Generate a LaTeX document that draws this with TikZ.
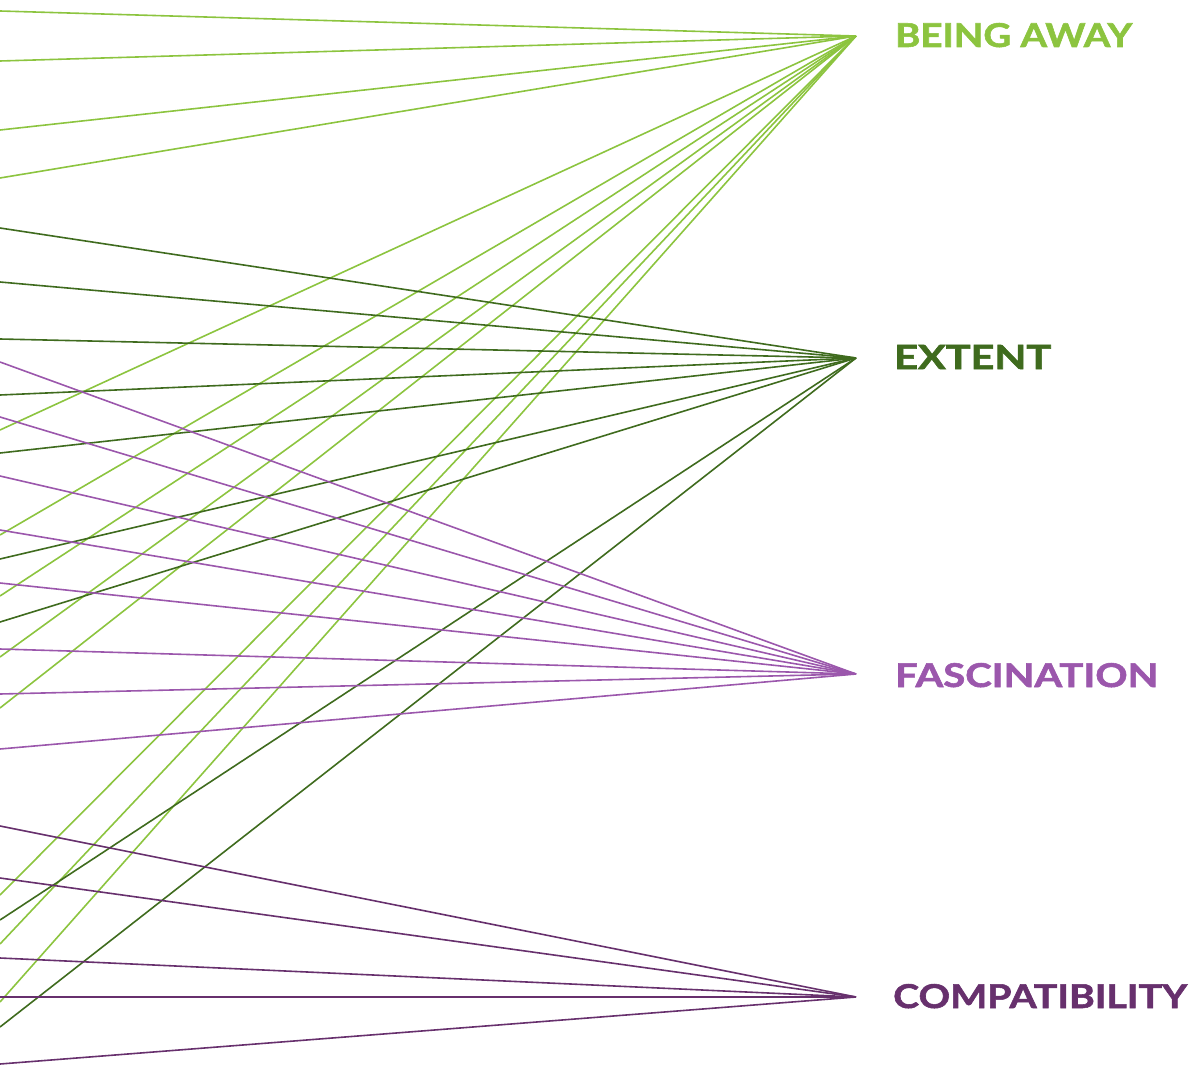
\documentclass[tikz,border=0pt]{standalone}
\usepackage{fontspec}
\setmainfont{Lato}
\newfontfamily\labfont{Lato}[BoldFeatures={FakeBold=1.6}]
\definecolor{cAway}{HTML}{8CC43F}
\definecolor{cExtent}{HTML}{3F6B1E}
\definecolor{cFasc}{HTML}{9B57AC}
\definecolor{cCompat}{HTML}{67306D}
\tikzset{
  link/.style={line width=1.6pt},
  lab/.style={anchor=base west, inner sep=0pt, font=\labfont\bfseries},
}
\begin{document}
\begin{tikzpicture}[x=1pt,y=-1pt]
\useasboundingbox (0,0) rectangle (1194,1065);
\coordinate (BA) at (856,36);
\coordinate (EX) at (856,358);
\coordinate (FA) at (856,674);
\coordinate (CO) at (856,997);
% Being away
\foreach \y [count=\i] in {11,61,130,178,430,535,596,657,708,895,944,1002}{
  \coordinate (ba\i) at (0,\y);
  \draw[link,cAway] (ba\i) -- (BA);
}
% Extent
\foreach \y [count=\i] in {228,282,339,395,453,559,622,920,1027}{
  \coordinate (ex\i) at (0,\y);
  \draw[link,cExtent] (ex\i) -- (EX);
}
% Fascination
\foreach \y [count=\i] in {362,417,476,530,583,649,694,749}{
  \coordinate (fa\i) at (0,\y);
  \draw[link,cFasc] (fa\i) -- (FA);
}
% Compatibility
\foreach \y [count=\i] in {826,878,958,997,1064}{
  \coordinate (co\i) at (0,\y);
  \draw[link,cCompat] (co\i) -- (CO);
}
\node[lab,text=cAway] (tBA) at (895,47) {\resizebox{237pt}{24pt}{BEING AWAY}};
\node[lab,text=cExtent] (tEX) at (894,369) {\resizebox{157pt}{24pt}{EXTENT}};
\node[lab,text=cFasc] (tFA) at (895,687) {\resizebox{263pt}{24pt}{FASCINATION}};
\node[lab,text=cCompat] (tCO) at (893,1008) {\resizebox{294pt}{24pt}{COMPATIBILITY}};
\end{tikzpicture}
\end{document}
